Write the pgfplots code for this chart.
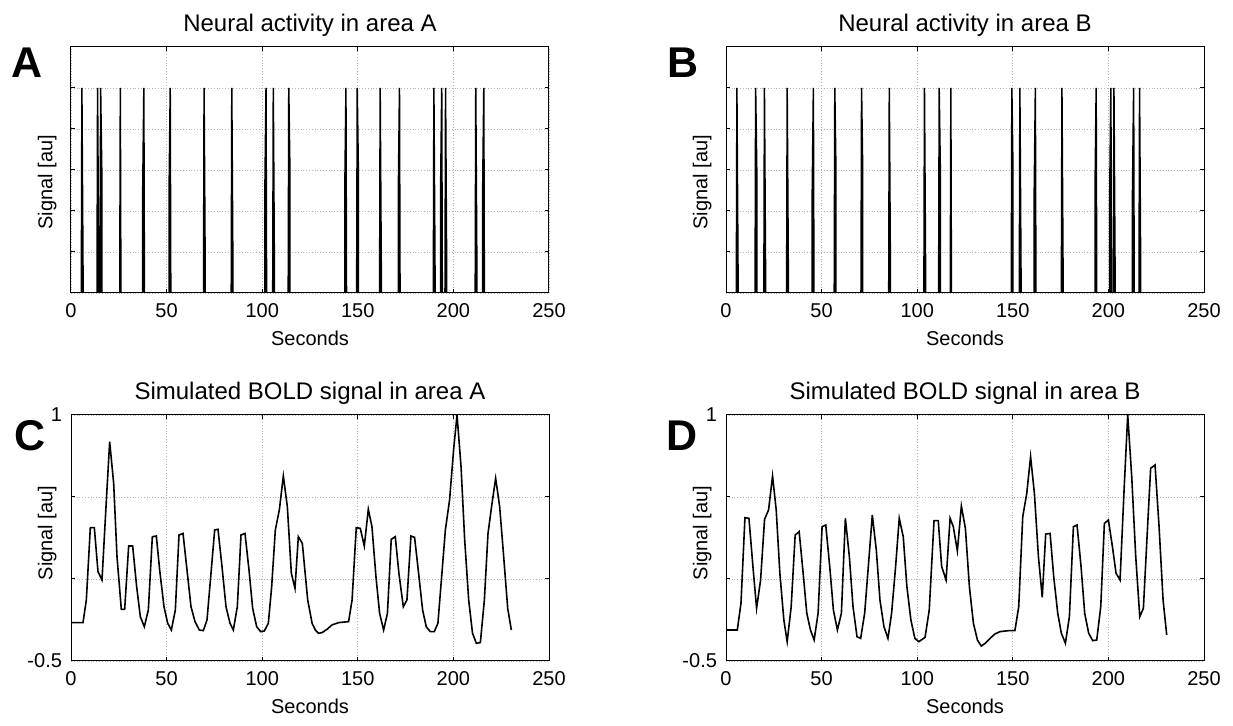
\documentclass[border=0pt]{standalone}
\usepackage{fontspec}
\setmainfont{Liberation Sans}
\usepackage{pgfplots}
\pgfplotsset{compat=1.18}
\pgfplotsset{
 panel/.style={
  scale only axis, width=239pt, height=123pt,
  anchor=north west,
  xmin=0, xmax=250, xtick={0,50,...,250},
  grid=major, grid style={densely dotted, gray!60, line width=0.4pt},
  tick align=inside, major tick length=2.2pt,
  axis line style={line width=0.5pt},
  every tick/.style={black, line width=0.5pt},
  tick label style={font=\fontsize{10}{11}\selectfont},
  /pgf/number format/assume math mode=true,
  label style={font=\fontsize{10}{11}\selectfont},
  title style={font=\fontsize{12}{14}\selectfont, anchor=base, at={(rel axis cs:0.5,1)}, yshift=1.5pt},
  xlabel={Seconds},
  xlabel style={anchor=base, at={(rel axis cs:0.5,0)}, yshift=-26.5pt},
  xticklabel style={anchor=base, yshift=-12.5pt},
  ylabel={Signal [au]},
  ylabel style={anchor=south, inner ysep=7pt},
 },
 spikes/.style={panel, ymin=0, ymax=1.2, ytick={0,0.2,...,1.0}, yticklabels={},
  ylabel style={at={(rel axis cs:0,0.45)}}},
 bold/.style={panel, ymin=-0.5, ymax=1, ytick={-0.5,0,0.5,1}, yticklabels={-0.5,,,1},
  yticklabel style={xshift=-1pt},
  ylabel style={at={(rel axis cs:0,0.52)}}},
}
\begin{document}
\begin{tikzpicture}
\useasboundingbox (0,0) rectangle (616.5pt,-363pt);
% ---------- A ----------
\begin{axis}[spikes, at={(35.5pt,-23.5pt)}, title={Neural activity in area A}]
\addplot[black, line width=0.75pt] coordinates {
(0,0)
(5.4,0)(5.7,1)(6.3,0.1)(6.3,0)
(13.6,0)(13.9,1)(14.5,0.1)(14.5,0)
(15.2,0)(15.5,1)(16.1,0.6)(16.1,0)
(25.5,0)(25.8,1)(26.1,0)
(37.5,0)(37.5,0.5)(38.1,1)(38.4,0)
(51.3,0)(51.3,0.5)(51.9,1)(52.2,0)
(69.3,0)(69.6,1)(70.2,0.1)(70.2,0)
(83.8,0)(84.1,1)(84.7,0.1)(84.7,0)
(101.4,0)(101.4,0.5)(102,1)(102.3,0)
(105.5,0)(105.8,1)(106.4,0.1)(106.4,0)
(113.6,0)(113.9,1)(114.5,0.6)(114.5,0)
(143.2,0)(143.2,0.5)(143.8,1)(144.1,0)
(149.4,0)(149.7,1)(150.3,0.6)(150.3,0)
(161.4,0)(161.7,1)(162.3,0.1)(162.3,0)
(171.2,0)(171.2,0.5)(171.8,1)(172.1,0)
(189.5,0)(189.8,1)(190.4,0.1)(190.4,0)
(193.3,0)(193.3,0.5)(193.9,1)(194.2,0)
(195.6,0)(195.9,1)(196.5,0.1)(196.5,0)
(211.4,0)(211.7,1)(212.3,0.1)(212.3,0)
(215.3,0)(215.3,0.5)(215.9,1)(216.2,0)
(230,0)
};
\end{axis}
% ---------- B ----------
\begin{axis}[spikes, at={(363pt,-23.5pt)}, title={Neural activity in area B}]
\addplot[black, line width=0.75pt] coordinates {
(0,0)
(5.4,0)(5.7,1)(6.3,0.1)(6.3,0)
(15.2,0)(15.5,1)(16.1,0.6)(16.1,0)
(19.8,0)(20.1,1)(20.7,0.1)(20.7,0)
(31.7,0)(32,1)(32.6,0.1)(32.6,0)
(45.1,0)(45.1,0.5)(45.7,1)(46,0)
(56.6,0)(56.9,1)(57.5,0.6)(57.5,0)
(70.6,0)(70.9,1)(71.5,0.6)(71.5,0)
(85.1,0)(85.4,1)(86,0.1)(86,0)
(103.5,0)(103.8,1)(104.4,0.1)(104.4,0)
(111.2,0)(111.5,1)(112.1,0.6)(112.1,0)
(117.3,0)(117.6,1)(117.9,0)
(149.2,0)(149.5,1)(150.1,0.6)(150.1,0)
(153.4,0)(153.7,1)(154.3,0.1)(154.3,0)
(161.2,0)(161.2,0.5)(161.8,1)(162.1,0)
(175.4,0)(175.7,1)(176.3,0.1)(176.3,0)
(193,0)(193,0.5)(193.6,1)(193.9,0)
(200.7,0)(200.7,0.5)(201.3,1)(201.6,0)
(202.6,0)(202.9,1)(203.5,0.1)(203.5,0)
(212.6,0)(212.6,0.5)(213.2,1)(213.5,0)
(216,0)(216.3,1)(216.9,0.1)(216.9,0)
(230,0)
};
\end{axis}
% ---------- C ----------
\begin{axis}[bold, at={(35.5pt,-207.5pt)}, title={Simulated BOLD signal in area A}]
\addplot[black, line width=0.8pt] coordinates {
(0,-0.266)(6.28,-0.266)(8.02,-0.128)(10.11,0.313)(12.20,0.313)(14.12,0.045)(16.21,-0.006)
(18.31,0.441)(20.22,0.837)(22.32,0.583)(24.06,0.136)(26.32,-0.185)(28.07,-0.185)(30.16,0.201)
(32.25,0.201)(34.34,-0.047)(36.26,-0.230)(38.35,-0.291)(40.45,-0.189)(42.54,0.258)(44.63,0.262)
(46.37,0.055)(48.64,-0.169)(50.56,-0.270)(52.48,-0.311)(54.57,-0.189)(56.49,0.268)(58.58,0.278)
(60.67,0.055)(62.76,-0.169)(64.85,-0.260)(67.12,-0.311)(69.21,-0.315)(71.13,-0.250)(73.22,0.035)
(75.14,0.299)(76.88,0.303)(78.98,0.075)(81.07,-0.169)(83.16,-0.270)(84.90,-0.311)(86.99,-0.169)
(88.91,0.268)(91.00,0.278)(93.10,0.055)(95.01,-0.179)(97.11,-0.291)(99.20,-0.321)(101.12,-0.317)
(103.21,-0.270)(104.95,-0.047)(106.87,0.299)(108.96,0.421)(111.05,0.628)(113.15,0.441)(115.24,0.035)
(117.15,-0.057)(118.90,0.258)(120.99,0.217)(123.8,-0.128)(126.1,-0.270)(127.8,-0.311)(129.5,-0.331)
(131.3,-0.327)(133.9,-0.307)(136.5,-0.280)(140.0,-0.266)(145.2,-0.260)(147.0,-0.128)(149.2,0.313)
(151.3,0.309)(153.4,0.201)(155.5,0.425)(157.4,0.319)(159.5,0.014)(161.4,-0.209)(163.5,-0.311)
(165.5,-0.209)(167.5,0.242)(169.6,0.258)(171.5,0.035)(173.8,-0.169)(175.7,-0.128)(177.8,0.262)
(179.7,0.254)(181.8,0.035)(183.9,-0.189)(185.8,-0.291)(187.9,-0.321)(190.0,-0.321)(191.9,-0.270)
(194.0,0.035)(195.8,0.299)(198.0,0.482)(200.1,0.787)(201.9,1.0)(204.0,0.685)(205.9,0.238)
(208.0,-0.128)(210.0,-0.331)(212.0,-0.392)(214.1,-0.388)(216.2,-0.128)(218.1,0.278)(220.2,0.461)
(222.1,0.614)(224.2,0.441)(226.3,0.136)(228.4,-0.179)(230.3,-0.311)
};
\end{axis}
% ---------- D ----------
\begin{axis}[bold, at={(363pt,-207.5pt)}, title={Simulated BOLD signal in area B}]
\addplot[black, line width=0.8pt] coordinates {
(0,-0.311)(5.91,-0.311)(7.83,-0.148)(9.91,0.374)(12.0,0.370)(14.09,0.075)(16.0,-0.179)
(18.09,-0.006)(20.17,0.364)(22.26,0.421)(24.35,0.628)(26.26,0.421)(28.17,0.035)(30.26,-0.250)
(32.0,-0.382)(34.09,-0.169)(36.17,0.268)(38.26,0.289)(40.35,0.035)(42.26,-0.209)(44.17,-0.311)
(46.09,-0.372)(48.17,-0.209)(50.26,0.319)(52.17,0.329)(54.26,0.075)(56.17,-0.189)(58.26,-0.311)
(60.35,-0.209)(62.43,0.370)(64.52,0.136)(66.43,-0.169)(68.52,-0.352)(70.43,-0.362)(72.52,-0.209)
(74.43,0.075)(76.52,0.390)(78.61,0.177)(80.52,-0.128)(82.61,-0.291)(84.70,-0.362)(86.61,-0.209)
(88.70,0.075)(90.61,0.370)(92.70,0.258)(94.61,-0.047)(96.70,-0.250)(98.78,-0.362)(100.87,-0.382)
(104.1,-0.356)(106.3,-0.189)(108.8,0.356)(111.0,0.356)(112.8,0.075)(115.1,-0.006)(117.2,0.370)
(118.9,0.319)(121.0,0.171)(123.1,0.445)(125.2,0.309)(127.3,-0.047)(129.4,-0.270)(131.5,-0.372)
(133.5,-0.409)(135.6,-0.392)(138.1,-0.362)(140.7,-0.335)(143.3,-0.321)(147.7,-0.315)(151.1,-0.315)
(153.1,-0.169)(155.2,0.380)(157.3,0.522)(159.3,0.746)(161.3,0.522)(163.4,0.136)(165.4,-0.112)
(167.2,0.274)(169.5,0.278)(171.4,0.014)(173.5,-0.209)(175.4,-0.331)(177.5,-0.392)(179.6,-0.230)
(181.7,0.319)(183.6,0.329)(185.7,0.075)(187.6,-0.209)(189.7,-0.331)(191.8,-0.376)(193.9,-0.372)
(196.0,-0.169)(197.9,0.339)(200.0,0.360)(202.1,0.197)(204.0,0.035)(206.1,-0.006)(208.2,0.543)
(210.1,1.0)(212.2,0.624)(214.3,0.136)(216.4,-0.230)(218.3,-0.179)(220.4,0.299)(222.1,0.675)
(224.4,0.695)(226.5,0.319)(228.6,-0.128)(230.5,-0.341)
};
\end{axis}
% panel letters
\node[font=\fontsize{21.5}{23}\selectfont\bfseries] at (13.5pt,-31.5pt) {A};
\node[font=\fontsize{21.5}{23}\selectfont\bfseries] at (341.5pt,-31.5pt) {B};
\node[font=\fontsize{21.5}{23}\selectfont\bfseries] at (15pt,-218pt) {C};
\node[font=\fontsize{21.5}{23}\selectfont\bfseries] at (341pt,-218pt) {D};
\end{tikzpicture}
\end{document}
